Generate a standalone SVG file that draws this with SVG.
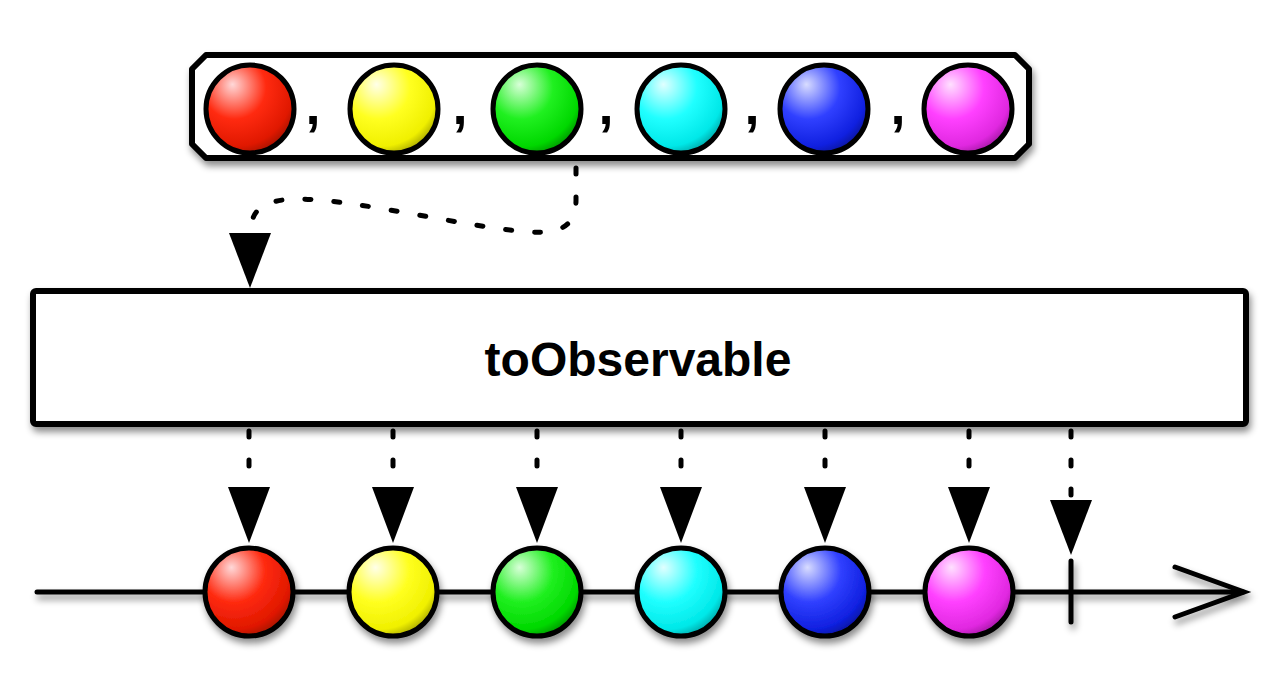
<svg xmlns="http://www.w3.org/2000/svg" width="1280" height="700" viewBox="0 0 1280 700">
<defs>
<filter id="sh" x="-20%" y="-20%" width="140%" height="150%">
<feDropShadow dx="2" dy="5" stdDeviation="3.5" flood-color="#000" flood-opacity="0.45"/>
</filter>
<radialGradient id="gRed" cx="0.35" cy="0.3" r="0.8" fx="0.3" fy="0.22"><stop offset="0" stop-color="#ffd8d8"/><stop offset="0.45" stop-color="#ff2a10"/><stop offset="0.8" stop-color="#e01800"/><stop offset="1" stop-color="#8a1000"/></radialGradient>
<radialGradient id="gYel" cx="0.35" cy="0.3" r="0.8" fx="0.3" fy="0.22"><stop offset="0" stop-color="#ffffe8"/><stop offset="0.45" stop-color="#ffff20"/><stop offset="0.8" stop-color="#f0f000"/><stop offset="1" stop-color="#8a8a00"/></radialGradient>
<radialGradient id="gGrn" cx="0.35" cy="0.3" r="0.8" fx="0.3" fy="0.22"><stop offset="0" stop-color="#d8ffd8"/><stop offset="0.45" stop-color="#20f020"/><stop offset="0.8" stop-color="#00d800"/><stop offset="1" stop-color="#007800"/></radialGradient>
<radialGradient id="gCyn" cx="0.35" cy="0.3" r="0.8" fx="0.3" fy="0.22"><stop offset="0" stop-color="#e0ffff"/><stop offset="0.45" stop-color="#20ffff"/><stop offset="0.8" stop-color="#00e8e8"/><stop offset="1" stop-color="#008a8a"/></radialGradient>
<radialGradient id="gBlu" cx="0.35" cy="0.3" r="0.8" fx="0.3" fy="0.22"><stop offset="0" stop-color="#d8dcff"/><stop offset="0.45" stop-color="#3040ff"/><stop offset="0.8" stop-color="#1020e0"/><stop offset="1" stop-color="#081080"/></radialGradient>
<radialGradient id="gMag" cx="0.35" cy="0.3" r="0.8" fx="0.3" fy="0.22"><stop offset="0" stop-color="#ffe0ff"/><stop offset="0.45" stop-color="#ff40ff"/><stop offset="0.8" stop-color="#e028e0"/><stop offset="1" stop-color="#8a108a"/></radialGradient>
</defs>
<style>
.ball{stroke:#000;stroke-width:5}
.comma{font-family:"Liberation Sans",Arial,sans-serif;font-weight:bold;font-size:54px;fill:#000}
.dash{fill:none;stroke:#000;stroke-width:5;stroke-linecap:round;stroke-dasharray:6 23}
.box{fill:#fff;stroke:#000;stroke-width:6}
.solid{fill:none;stroke:#000;stroke-width:5;stroke-linecap:round}
.head{fill:#000}
</style>

<g id="source">
<path class="box" filter="url(#sh)" d="M206 55 L1015 55 L1029 69 L1029 144 L1015 158 L206 158 L192 144 L192 69 Z" stroke-linejoin="round"/>
<circle class="ball" cx="250" cy="109" r="44" fill="url(#gRed)"/>
<circle class="ball" cx="394" cy="109" r="44" fill="url(#gYel)"/>
<circle class="ball" cx="537" cy="109" r="44" fill="url(#gGrn)"/>
<circle class="ball" cx="681" cy="109" r="44" fill="url(#gCyn)"/>
<circle class="ball" cx="824" cy="109" r="44" fill="url(#gBlu)"/>
<circle class="ball" cx="968" cy="109" r="44" fill="url(#gMag)"/>
<text class="comma" x="313" y="124" text-anchor="middle">,</text>
<text class="comma" x="460" y="124" text-anchor="middle">,</text>
<text class="comma" x="606" y="124" text-anchor="middle">,</text>
<text class="comma" x="752" y="124" text-anchor="middle">,</text>
<text class="comma" x="898" y="124" text-anchor="middle">,</text>
</g>

<g id="operator">
<rect class="box" filter="url(#sh)" x="33" y="291" width="1213" height="133" rx="3"/>
<text x="638" y="376" text-anchor="middle" font-family="'Liberation Sans',Arial,Helvetica,sans-serif" font-weight="bold" font-size="48" fill="#000">toObservable</text>
</g>

<g id="connectors">
<path class="dash" d="M576 168 L576 200 C576 226 560 234 530 232 C470 228 360 200 300 199 C270 199 252 206 251 228"/>
<path class="head" d="M229 233 L271 233 L250 288 Z"/>
<line class="dash" x1="249" y1="431" x2="249" y2="487"/>
<line class="dash" x1="393" y1="431" x2="393" y2="487"/>
<line class="dash" x1="537" y1="431" x2="537" y2="487"/>
<line class="dash" x1="681" y1="431" x2="681" y2="487"/>
<line class="dash" x1="825" y1="431" x2="825" y2="487"/>
<line class="dash" x1="969" y1="431" x2="969" y2="487"/>
<line class="dash" x1="1071" y1="431" x2="1071" y2="495"/>
<path class="head" d="M228 487 L270 487 L249 543 Z"/>
<path class="head" d="M372 487 L414 487 L393 543 Z"/>
<path class="head" d="M516 487 L558 487 L537 543 Z"/>
<path class="head" d="M660 487 L702 487 L681 543 Z"/>
<path class="head" d="M804 487 L846 487 L825 543 Z"/>
<path class="head" d="M948 487 L990 487 L969 543 Z"/>
<path class="head" d="M1050 500 L1092 500 L1071 555 Z"/>
</g>

<g id="timeline">
<g filter="url(#sh)">
<line class="solid" x1="37" y1="592" x2="1243" y2="592"/>
<path class="solid" d="M1175 567 L1244 592 L1175 617"/>
<line class="solid" x1="1071" y1="561" x2="1071" y2="622"/>
</g>
</g>

<g id="emissions">
<circle class="ball" filter="url(#sh)" cx="249" cy="592" r="44" fill="url(#gRed)"/>
<circle class="ball" filter="url(#sh)" cx="393" cy="592" r="44" fill="url(#gYel)"/>
<circle class="ball" filter="url(#sh)" cx="537" cy="592" r="44" fill="url(#gGrn)"/>
<circle class="ball" filter="url(#sh)" cx="681" cy="592" r="44" fill="url(#gCyn)"/>
<circle class="ball" filter="url(#sh)" cx="825" cy="592" r="44" fill="url(#gBlu)"/>
<circle class="ball" filter="url(#sh)" cx="969" cy="592" r="44" fill="url(#gMag)"/>
</g>
</svg>
